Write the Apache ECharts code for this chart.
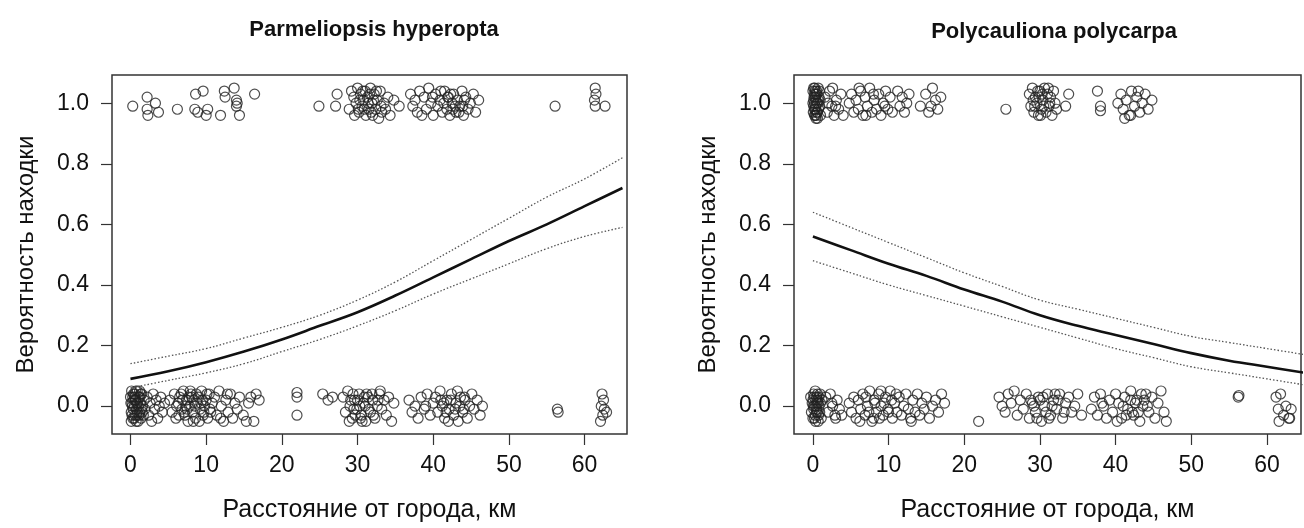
<!DOCTYPE html>
<html>
<head>
<meta charset="utf-8">
<script src="https://cdn.jsdelivr.net/npm/echarts@6/dist/echarts.min.js"></script>
<style>
html,body{margin:0;padding:0;background:#fff;}
#chart{width:1304px;height:528px;}
</style>
</head>
<body>
<div id="chart"></div>
<script>
// ---- Data ----
const panelTitles = ["Parmeliopsis hyperopta", "Polycauliona polycarpa"];
const xTitle = "Расстояние от города, км";
const yTitle = "Вероятность находки";
const xTicks = [0, 10, 20, 30, 40, 50, 60];
const yTicks = [0, 0.2, 0.4, 0.6, 0.8, 1.0];

// fitted probability curves (km, probability), read every 5 km
const fitX = [0, 5, 10, 15, 20, 25, 30, 35, 40, 45, 50, 55, 60, 65];
const hypFit   = [0.09, 0.115, 0.145, 0.18, 0.22, 0.265, 0.31, 0.365, 0.425, 0.485, 0.545, 0.60, 0.66, 0.72];
const hypUpper = [0.14, 0.165, 0.19, 0.225, 0.26, 0.30, 0.35, 0.41, 0.48, 0.55, 0.62, 0.69, 0.75, 0.82];
const hypLower = [0.06, 0.085, 0.11, 0.14, 0.18, 0.22, 0.265, 0.315, 0.37, 0.42, 0.47, 0.52, 0.56, 0.59];
const polFit   = [0.56, 0.515, 0.47, 0.43, 0.385, 0.345, 0.30, 0.265, 0.235, 0.205, 0.175, 0.15, 0.13, 0.11];
const polUpper = [0.64, 0.59, 0.54, 0.49, 0.44, 0.395, 0.35, 0.32, 0.29, 0.26, 0.23, 0.21, 0.19, 0.17];
const polLower = [0.48, 0.44, 0.40, 0.365, 0.33, 0.295, 0.26, 0.225, 0.19, 0.16, 0.13, 0.11, 0.09, 0.07];

// jittered observations [km, found(1)/absent(0) + jitter]
const hypFound = [[0.3,0.99],[2.2,1.02],[3.3,1.00],[2.2,0.98],[2.3,0.96],[3.7,0.97],[6.2,0.98],[8.6,1.03],[9.6,1.04],[8.5,0.98],[8.9,0.97],[10.2,0.98],[10.0,0.96],[11.9,0.96],[12.4,1.04],[12.5,1.02],[13.7,1.05],[14.0,1.01],[14.1,1.00],[14.0,0.99],[14.4,0.96],[16.4,1.03],
[24.9,0.99],[27.3,1.03],[27.1,0.99],[28.9,0.98],
[29.2,1.04],[29.5,1.02],[29.8,1.00],[30.0,1.05],[30.2,0.97],[30.4,1.03],[30.6,0.99],[30.8,1.01],[31.0,1.04],[31.1,0.96],[31.3,1.02],[31.5,0.98],[31.7,1.05],[31.9,1.00],[32.0,0.96],[32.2,1.03],[32.4,0.98],[32.6,1.01],[32.8,0.95],[33.0,1.04],[33.2,0.97],[33.5,1.00],[33.7,0.98],[34.0,1.02],[34.3,0.96],[34.8,1.01],[35.5,0.99],[30.1,0.98],[29.6,0.96],[31.6,1.03],
[30.3,1.01],[30.9,0.98],[31.4,1.00],[32.1,1.01],[32.5,1.04],[33.1,0.99],[30.7,1.04],[31.8,0.97],
[37.0,1.03],[37.3,0.99],[37.6,1.01],[37.9,0.97],[38.2,1.04],[38.5,0.96],[38.8,1.02],[39.1,0.98],[39.4,1.05],[39.7,1.00],[40.0,0.96],[40.3,1.03],[40.6,0.99],[40.9,1.01],[41.2,0.97],[41.5,1.04],[41.8,0.98],[42.0,1.02],[42.2,0.96],[42.5,1.00],[42.7,1.03],[43.0,0.97],[43.2,1.01],[43.5,0.99],[43.8,1.04],[44.0,0.96],[44.3,1.02],[44.6,0.98],[44.9,1.00],[45.3,1.03],[45.6,0.97],[46.0,1.01],[41.0,1.04],[42.9,0.99],[39.9,1.02],
[41.4,1.00],[42.3,1.03],[43.4,0.97],[44.1,1.01],[42.6,0.98],[41.9,1.02],[43.9,0.99],
[56.1,0.99],[61.4,1.05],[61.5,1.03],[61.3,1.01],[61.4,0.99],[62.7,0.99]];

const hypAbsent = [[0.0,0.03],[0.1,-0.02],[0.2,0.01],[0.3,-0.04],[0.4,0.04],[0.5,0.00],[0.6,-0.03],[0.7,0.02],[0.8,-0.01],[0.9,0.05],[1.0,-0.05],[1.1,0.03],[1.2,-0.02],[1.3,0.01],[1.4,-0.04],[1.5,0.04],[1.6,0.00],[1.7,-0.03],[1.8,0.02],[1.9,-0.01],[0.15,0.05],[0.35,-0.01],[0.55,0.03],[0.75,-0.05],[0.95,0.01],[1.15,-0.03],[1.35,0.04],[1.55,-0.02],[0.25,0.00],[0.65,0.02],
[0.05,0.01],[0.2,-0.03],[0.45,0.02],[0.6,0.04],[0.85,-0.03],[1.05,0.00],[1.25,0.03],[1.45,-0.01],[0.1,-0.05],[0.5,-0.04],[0.7,0.05],[0.9,-0.02],[1.2,0.05],[0.3,0.03],[0.8,0.01],
[2.2,0.03],[2.4,-0.03],[2.6,0.01],[2.8,-0.05],[3.0,0.04],[3.2,-0.01],[3.4,0.02],[3.6,-0.04],[3.8,0.00],[4.0,0.03],[4.2,-0.02],[4.5,0.01],
[5.2,0.02],[5.5,-0.02],[5.8,0.04],[6.0,-0.04],[6.3,0.01],[6.5,0.03],[6.8,-0.01],[7.0,0.05],[7.2,-0.03],[7.4,0.02],[7.6,-0.05],[7.8,0.00],[8.0,0.04],[8.2,-0.02],[8.4,0.02],[8.6,-0.04],[8.8,0.01],[9.0,0.03],[9.2,-0.01],[9.4,0.05],[9.6,-0.03],[9.8,0.00],[10.0,0.02],[10.2,-0.04],[10.4,0.04],[10.6,-0.02],[10.8,0.01],[6.1,0.00],[7.1,-0.02],[8.1,0.03],[9.1,-0.05],[7.9,0.05],[6.7,0.04],[9.5,0.02],
[6.4,-0.03],[6.9,0.02],[7.3,0.00],[7.7,0.03],[8.3,-0.05],[8.7,0.04],[9.3,0.01],[9.7,-0.02],[10.1,0.04],[10.5,-0.01],[7.5,-0.01],[8.5,0.00],
[11.1,0.03],[11.4,-0.03],[11.7,0.05],[12.0,0.00],[12.3,-0.05],[12.6,0.02],[12.9,-0.02],[13.2,0.04],[13.5,-0.04],[13.8,0.01],[14.1,-0.01],[14.4,0.03],[11.9,-0.04],[12.8,0.04],
[14.9,-0.03],[15.3,-0.05],[15.6,0.01],[15.9,0.03],[16.3,-0.05],[16.6,0.04],[17.0,0.02],
[22.0,0.045],[22.0,0.03],[22.0,-0.03],[25.4,0.04],[26.7,0.03],[26.1,0.02],
[28.1,0.03],[28.4,-0.02],[28.7,0.05],[29.0,0.00],[29.3,-0.04],[29.6,0.02],[29.9,-0.01],[30.2,0.04],[30.5,-0.03],[30.8,0.01],[31.1,-0.05],[31.4,0.03],[31.7,-0.02],[32.0,0.02],[32.3,-0.04],[32.6,0.00],[32.9,0.04],[33.2,-0.01],[33.5,0.02],[33.8,-0.03],[34.1,0.03],[34.5,-0.05],[34.8,0.01],[29.4,0.04],[30.0,0.02],[31.0,0.00],[31.9,0.04],[28.9,-0.05],[30.6,-0.05],[33.0,0.05],
[29.1,0.02],[29.7,-0.03],[30.3,0.00],[30.9,0.03],[31.5,-0.01],[32.1,-0.03],[32.7,0.02],[29.5,-0.01],[30.4,-0.04],[31.2,0.04],
[36.8,0.02],[37.2,-0.02],[37.6,0.00],[38.0,-0.04],[38.4,0.03],[38.8,-0.01],[39.2,0.04],[39.6,-0.03],[40.0,0.01],[40.3,0.03],[40.6,-0.02],[40.9,0.05],[41.2,0.00],[41.5,-0.04],[41.8,0.02],[42.1,-0.01],[42.4,0.04],[42.7,-0.03],[43.0,0.01],[43.3,-0.05],[43.6,0.03],[43.9,-0.02],[44.2,0.02],[44.5,-0.04],[44.8,0.00],[45.1,0.04],[45.4,-0.01],[45.8,0.02],[46.2,-0.03],[46.5,0.00],[41.0,0.02],[42.0,-0.05],[43.2,0.05],[44.0,-0.01],[39.0,0.00],
[41.4,0.01],[41.7,-0.02],[42.3,0.02],[42.9,-0.01],[43.5,0.00],[44.1,0.03],
[56.4,-0.01],[56.5,-0.02],[62.3,0.04],[62.5,0.02],[62.2,0.00],[62.6,-0.01],[62.4,-0.03],[62.1,-0.05],[62.9,-0.02]];

const polFound = [[0.0,1.04],[0.1,1.01],[0.2,0.98],[0.3,0.96],[0.4,1.03],[0.5,1.00],[0.6,0.97],[0.7,1.05],[0.8,1.02],[0.9,0.99],[1.0,0.96],[0.05,0.97],[0.15,1.02],[0.25,1.05],[0.35,0.99],[0.45,0.96],[0.55,1.03],[0.65,1.00],[0.75,0.98],[0.85,1.04],[0.95,1.01],[0.3,1.02],[0.6,0.95],[0.2,1.00],
[0.1,0.99],[0.2,1.03],[0.3,0.98],[0.4,1.01],[0.5,0.97],[0.1,1.05],[0.4,0.95],[0.5,1.04],[0.7,1.01],[0.0,1.00],[0.3,1.04],[0.2,0.96],
[1.6,1.02],[1.9,0.97],[2.2,1.04],[2.5,0.99],[2.8,0.96],[3.1,1.01],[3.4,0.98],[3.7,1.03],[4.0,0.96],[2.0,1.00],[3.0,0.99],[2.6,1.05],
[4.8,1.00],[5.1,1.03],[5.4,0.97],[5.7,1.01],[6.0,0.98],[6.3,1.04],[6.6,0.96],[6.9,1.02],[7.2,0.99],[7.5,1.05],[7.8,0.97],[8.1,1.01],[8.4,0.98],[8.7,1.03],[9.0,0.96],[9.3,1.00],[9.6,1.04],[9.9,0.98],[10.2,1.02],[10.5,0.97],[6.1,1.05],[7.0,0.96],[8.0,1.03],[9.5,0.99],
[11.2,1.04],[11.5,0.99],[11.8,1.02],[12.1,0.97],[12.4,1.00],[12.7,1.03],
[14.2,0.99],[14.9,1.03],[15.3,0.97],[15.8,1.05],[16.2,1.01],[16.5,0.98],[16.9,1.02],[15.6,0.99],
[25.5,0.98],
[28.6,1.03],[28.8,0.99],[29.0,1.05],[29.2,0.97],[29.4,1.02],[29.6,1.00],[29.8,0.96],[30.0,1.04],[30.2,0.98],[30.4,1.01],[30.6,1.05],[30.8,0.97],[31.0,1.03],[31.2,0.99],[31.4,1.02],[31.6,0.96],[31.8,1.04],[32.0,1.00],[32.2,0.98],[29.1,1.01],[30.1,0.96],[31.1,1.05],
[29.3,0.99],[29.9,1.02],[30.5,0.99],[31.3,1.00],[30.3,1.03],[29.7,1.04],
[33.8,1.03],[33.4,0.99],[37.6,1.04],[38.0,0.99],[38.0,0.975],
[40.3,1.00],[40.7,1.03],[41.0,0.98],[41.4,1.01],[41.8,0.96],[42.1,1.04],[42.5,0.99],[42.8,1.02],[43.2,0.97],[43.5,1.00],[43.9,1.03],[44.3,0.98],[44.8,1.01],[41.2,0.95],[42.0,0.96],[43.0,1.04]];

const polAbsent = [[-0.3,0.03],[-0.2,-0.02],[-0.1,0.01],[0.0,-0.04],[0.1,0.04],[0.2,0.00],[0.3,-0.03],[0.4,0.02],[0.5,-0.01],[0.6,0.04],[0.7,-0.05],[0.8,0.03],[0.9,-0.02],[1.0,0.01],[1.1,-0.04],[1.2,0.02],[0.15,0.03],[0.35,-0.05],[0.55,0.01],[0.75,-0.03],[0.95,0.04],[0.05,0.00],[0.45,-0.02],[0.65,0.02],
[0.0,0.02],[0.2,-0.04],[0.4,0.00],[0.6,-0.02],[0.8,0.00],[0.1,-0.01],[0.3,0.05],[0.5,0.03],[0.7,0.01],
[1.7,0.03],[2.0,-0.02],[2.3,0.04],[2.6,0.00],[2.9,-0.03],[3.2,0.02],[3.5,-0.01],[3.8,-0.03],[2.5,0.01],[3.0,-0.04],
[4.8,0.01],[5.1,-0.02],[5.4,0.03],[5.7,-0.04],[6.0,0.02],[6.3,-0.01],[6.6,0.04],[6.9,-0.03],[7.2,0.00],[7.5,0.05],[7.8,-0.05],[8.1,0.02],[8.4,-0.02],[8.7,0.04],[9.0,0.00],[9.3,-0.03],[9.6,0.03],[9.9,-0.01],[10.2,0.05],[10.5,-0.04],[10.8,0.01],[11.1,-0.02],[11.4,0.03],[11.7,-0.03],[12.0,0.00],[12.3,0.04],[12.6,-0.01],[12.9,-0.04],[13.2,0.02],[13.5,-0.02],[13.8,0.04],[14.1,-0.03],[14.4,0.01],[14.7,-0.01],[15.0,0.03],[15.4,-0.04],[15.8,0.00],[16.2,0.02],[16.6,-0.02],[17.0,0.04],[17.4,0.01],[7.0,0.03],[8.0,-0.04],[9.0,0.05],[10.0,-0.02],[11.0,0.04],[6.2,-0.05],[13.0,-0.05],
[7.4,-0.02],[8.2,0.01],[8.8,-0.04],[9.4,0.01],[10.4,0.02],
[21.9,-0.05],
[24.6,0.03],[25.0,0.00],[25.4,-0.02],[25.8,0.04],[26.2,0.01],[26.6,0.05],[27.0,-0.03],[27.4,0.02],[27.8,-0.01],[28.2,0.04],[28.6,-0.04],[29.0,0.01],[29.4,-0.02],[29.8,0.03],[30.2,-0.05],[30.6,0.00],[31.0,0.04],[31.4,-0.03],[31.8,0.02],[32.2,-0.01],[32.6,0.04],[33.0,-0.04],[33.4,0.01],[33.8,0.03],[34.2,-0.02],[34.6,0.00],[35.0,0.04],[35.5,-0.03],[29.2,0.00],[30.0,0.02],[31.2,-0.04],[32.0,0.04],[28.8,0.02],[30.8,-0.02],
[29.6,-0.04],[30.4,0.03],[31.6,0.00],[32.4,0.02],[33.2,-0.02],
[36.8,-0.01],[37.2,0.03],[37.6,-0.03],[38.0,0.04],[38.4,0.00],[38.8,-0.04],[39.2,0.02],[39.6,-0.02],[40.0,0.04],[40.4,0.01],[40.8,-0.04],[41.2,0.03],[41.6,-0.01],[42.0,0.05],[42.4,-0.03],[42.8,0.02],[43.2,-0.05],[43.6,0.00],[44.0,0.04],[44.4,-0.02],[44.8,0.03],[45.2,-0.04],[45.6,0.01],[46.0,0.05],[46.4,-0.02],[46.7,-0.05],[41.0,0.00],[42.2,-0.02],[43.4,0.04],[40.2,-0.05],[44.2,0.00],[38.2,0.01],
[41.4,-0.03],[42.6,0.01],[43.0,-0.02],[43.8,0.02],[42.0,0.02],
[56.2,0.03],[56.3,0.035],
[61.2,0.03],[61.5,-0.01],[61.8,0.04],[62.2,-0.03],[62.5,0.00],[62.9,-0.04],[63.2,-0.01],[63.0,-0.04],[61.6,-0.05]];

// ---- build chart ----
const FONT = "Liberation Sans, Arial, sans-serif";
const pair = (xs, ys) => xs.map((x, i) => [x, ys[i]]);
const grids = [
  {left: 112, top: 75, width: 515, height: 361},
  {left: 794, top: 75, width: 507, height: 361}
];
const xRanges = [[-2.44, 65.6], [-2.5, 64.5]];

function xAxisFor(i) {
  return {
    type: 'value', gridIndex: i, min: xRanges[i][0], max: xRanges[i][1], position: 'bottom',
    name: xTitle, nameLocation: 'middle', nameGap: 64,
    nameTextStyle: {fontFamily: FONT, fontSize: 25, color: '#111'},
    axisLine: {show: false, onZero: false}, splitLine: {show: false},
    axisTick: {show: true, inside: false, length: 11, customValues: xTicks, lineStyle: {color: '#333', width: 1.2}},
    axisLabel: {customValues: xTicks, fontFamily: FONT, fontSize: 23, color: '#111', margin: 20}
  };
}
function yAxisFor(i) {
  return {
    type: 'value', gridIndex: i, min: -0.092, max: 1.093, position: 'left',
    name: yTitle, nameLocation: 'middle', nameGap: 74, nameRotate: 90,
    nameTextStyle: {fontFamily: FONT, fontSize: 24, color: '#111'},
    axisLine: {show: false, onZero: false}, splitLine: {show: false},
    axisTick: {show: true, inside: false, length: 11, customValues: yTicks, lineStyle: {color: '#333', width: 1.2}},
    axisLabel: {customValues: yTicks, fontFamily: FONT, fontSize: 23, color: '#111', margin: 23,
      formatter: v => Number(v).toFixed(1)}
  };
}
function scatterFor(i, data) {
  return {type: 'scatter', xAxisIndex: i, yAxisIndex: i, data: data, symbol: 'circle', symbolSize: 10,
    itemStyle: {color: 'rgba(255,255,255,0)', borderColor: '#222', borderWidth: 1.2}, silent: true, z: 2};
}
function lineFor(i, ys, dotted) {
  return {type: 'line', xAxisIndex: i, yAxisIndex: i, data: pair(fitX, ys), showSymbol: false, smooth: 0.4,
    lineStyle: dotted ? {color: '#555', width: 1.3, type: [1.5, 2]} : {color: '#111', width: 2.6},
    silent: true, z: 5};
}

const chart = echarts.init(document.getElementById('chart'), null, {renderer: 'canvas'});
chart.setOption({
  backgroundColor: '#fff',
  animation: false,
  title: [
    {text: panelTitles[0], left: 369, top: 14, textAlign: 'center', textStyle: {fontFamily: FONT, fontSize: 22, fontWeight: 'bold', color: '#111'}},
    {text: panelTitles[1], left: 1049, top: 16, textAlign: 'center', textStyle: {fontFamily: FONT, fontSize: 22, fontWeight: 'bold', color: '#111'}}
  ],
  grid: grids.map(g => Object.assign({show: true, borderColor: '#333', borderWidth: 1.5, backgroundColor: 'transparent'}, g)),
  xAxis: [xAxisFor(0), xAxisFor(1)],
  yAxis: [yAxisFor(0), yAxisFor(1)],
  series: [
    scatterFor(0, hypFound), scatterFor(0, hypAbsent),
    lineFor(0, hypFit, false), lineFor(0, hypUpper, true), lineFor(0, hypLower, true),
    scatterFor(1, polFound), scatterFor(1, polAbsent),
    lineFor(1, polFit, false), lineFor(1, polUpper, true), lineFor(1, polLower, true)
  ]
});
</script>
</body>
</html>
